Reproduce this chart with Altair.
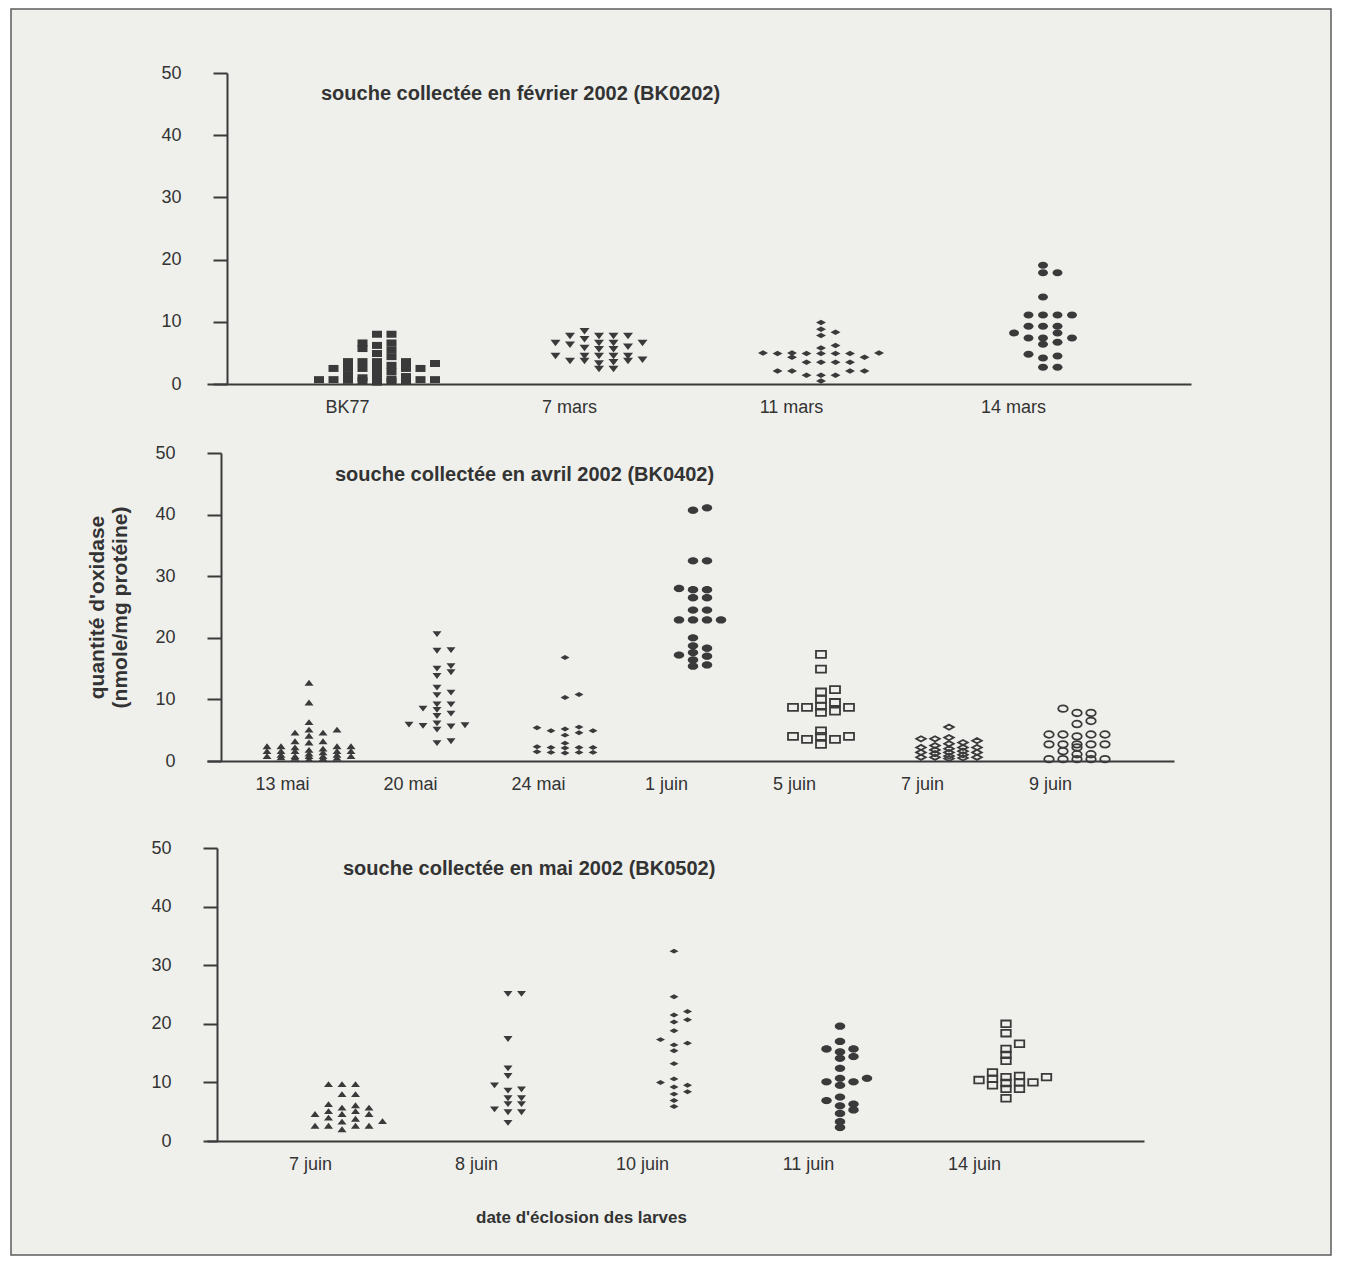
import altair as alt
import pandas as pd

# ---------------- data ----------------
p1_cats = ["BK77", "7 mars", "11 mars", "14 mars"]
p1_bk77 = [8.0, 8.0, 6.6, 6.6, 6.2, 5.7, 5.5, 4.9, 4.4, 3.6, 3.6, 3.6, 3.6, 3.3, 3.0,
           2.5, 2.5, 2.5, 2.5, 2.5, 2.5, 2.0, 1.6, 1.4, 1.2, 1.0, 0.8, 0.7, 0.7, 0.7,
           0.7, 0.7, 0.6, 0.5, 0.5, 0.4, 0.3]
p1_7mars = [8.5, 7.7, 7.7, 7.7, 7.7, 7.2, 6.6, 6.6, 6.6, 6.6, 6.3, 6.0, 5.8, 5.6, 5.6,
            4.5, 4.5, 4.5, 4.5, 4.5, 3.9, 3.7, 3.7, 3.7, 3.5, 3.3, 2.4, 2.4]
p1_11mars = [9.9, 8.8, 8.3, 7.8, 6.2, 5.8, 5.0, 5.0, 4.9, 4.9, 4.9, 4.9, 4.9, 5.0, 4.3,
             4.3, 3.5, 3.5, 3.5, 3.5, 2.1, 2.1, 2.1, 2.1, 1.4, 1.4, 1.4, 0.5]
p1_14mars = [19.1, 17.9, 17.9, 14.0, 11.1, 11.1, 11.1, 11.1, 9.3, 9.3, 9.3, 8.2, 8.2,
             7.4, 7.4, 7.4, 6.7, 6.4, 4.8, 4.5, 4.2, 2.7, 2.7]

p2_cats = ["13 mai", "20 mai", "24 mai", "1 juin", "5 juin", "7 juin", "9 juin"]
p2_13mai = [12.7, 9.5, 6.3, 5.1, 5.1, 4.6, 4.6, 4.1, 3.2, 3.2, 3.0, 2.4, 2.4, 2.4, 2.4,
            2.2, 2.0, 1.8, 1.6, 1.6, 1.6, 1.6, 1.6, 1.4, 1.2, 1.0, 1.0, 0.8, 0.8, 0.8,
            0.8, 0.8, 0.6, 0.5, 0.5, 0.4, 0.3]
p2_20mai = [20.6, 18.0, 17.9, 15.4, 15.0, 14.4, 13.8, 11.9, 11.1, 10.7, 9.2, 9.2, 8.5,
            8.3, 7.7, 7.3, 6.1, 5.9, 5.8, 5.7, 5.6, 5.1, 3.2, 2.9]
p2_24mai = [16.8, 10.8, 10.3, 5.5, 5.4, 5.2, 4.9, 4.9, 4.6, 4.2, 2.9, 2.3, 2.2, 2.2,
            2.2, 2.1, 1.5, 1.4, 1.4, 1.4, 1.3]
p2_1juin = [41.1, 40.7, 32.5, 32.5, 28.0, 27.8, 27.8, 26.5, 26.5, 24.5, 24.5, 22.9,
            22.9, 22.9, 22.9, 20.0, 18.7, 18.3, 17.6, 17.2, 17.0, 16.4, 15.6, 15.4]
p2_5juin = [17.3, 14.9, 11.6, 11.2, 10.0, 9.5, 8.9, 8.7, 8.7, 8.7, 8.1, 7.9, 4.9, 4.0,
            4.0, 4.0, 3.5, 3.5, 2.7]
p2_7juin = [5.5, 3.8, 3.6, 3.6, 3.3, 3.0, 2.8, 2.5, 2.2, 2.2, 2.2, 2.0, 1.8, 1.6, 1.4,
            1.4, 1.4, 1.2, 1.0, 0.8, 0.6, 0.6, 0.6, 0.5, 0.4]
p2_9juin = [8.5, 7.8, 7.8, 6.5, 6.0, 4.3, 4.3, 4.3, 4.3, 4.0, 2.7, 2.7, 2.7, 2.7, 2.7,
            2.2, 1.6, 1.1, 1.1, 0.3, 0.3, 0.3, 0.3, 0.3]

p3_cats = ["7 juin", "8 juin", "10 juin", "11 juin", "14 juin"]
p3_7juin = [9.7, 9.7, 9.7, 8.0, 8.0, 6.3, 6.1, 5.7, 5.7, 5.1, 5.1, 4.6, 4.6, 4.6, 4.0,
            3.8, 3.4, 3.3, 2.6, 2.6, 2.6, 2.6, 2.0]
p3_8juin = [25.1, 25.1, 17.4, 12.4, 11.1, 9.5, 8.8, 8.6, 7.3, 7.3, 6.3, 6.3, 5.4, 4.9,
            4.9, 3.1]
p3_10juin = [32.4, 24.6, 22.1, 21.5, 20.7, 20.3, 18.8, 17.3, 16.7, 16.4, 15.4, 13.2,
             10.6, 10.0, 9.5, 9.2, 8.4, 8.0, 6.9, 5.9]
p3_11juin = [19.6, 17.0, 15.7, 15.7, 15.2, 14.4, 14.1, 12.4, 10.7, 10.7, 10.1, 10.1,
             9.5, 7.5, 6.9, 6.3, 6.0, 5.3, 4.7, 3.3, 2.3]
p3_14juin = [20.0, 18.4, 16.6, 15.7, 14.7, 13.7, 11.7, 11.1, 10.9, 10.9, 10.6, 10.4,
             10.0, 10.0, 9.9, 9.5, 8.9, 8.9, 7.3]

y_ticks = [0, 10, 20, 30, 40, 50]

titles = ["souche collectée en février 2002 (BK0202)",
          "souche collectée en avril 2002 (BK0402)",
          "souche collectée en mai 2002 (BK0502)"]
y_title = ["quantité d'oxidase", "(nmole/mg protéine)"]
x_title = "date d'éclosion des larves"

# ---------------- styling ----------------
FONT = "Liberation Sans"
INK = "#3a3a3a"
TXT = "#333333"
BG = "#eff0ec"

SHAPES = {
    "square": "M-1,-0.7L1,-0.7L1,0.7L-1,0.7Z",
    "tri_down": "M-1,-0.65L1,-0.65L0,0.65Z",
    "tri_up": "M-1,0.65L1,0.65L0,-0.65Z",
    "diamond": "M-1,0L0,-0.55L1,0L0,0.55Z",
    "circle": "M-1,0A1,0.7,0,1,1,1,0A1,0.7,0,1,1,-1,0Z",
}


def swarm(values, ppu, dy_px, maxc):
    """column index for each point: nearest free column, limited to +-maxc"""
    order = sorted(range(len(values)), key=lambda i: values[i])
    cand = [0]
    for j in range(1, maxc + 1):
        cand += [j, -j]
    placed = []
    cols = [0] * len(values)
    for i in order:
        y = values[i] * ppu
        best, best_d = None, -1.0
        for c in cand:
            d = min([abs(py - y) for pc, py in placed if pc == c] or [1e9])
            if d >= dy_px:
                best = c
                break
            if d > best_d + 0.01:
                best, best_d = c, d
        placed.append((best, y))
        cols[i] = best
    return cols


def make_panel(cats, series, styles, title, title_pos, W, H, top_pad, first_px,
               gap_px, step_px, label_shift, yaxis_shift, ytitle=None,
               xtitle=None, frame=False):
    L = 208
    c0 = first_px - L
    u0 = -c0 / gap_px
    u1 = (W - c0) / gap_px
    ppu = (H - top_pad) / 50.0
    lab = "[" + ",".join("'" + c + "'" for c in cats) + "][datum.value]"

    xaxis_kw = dict(values=list(range(len(cats))), labelExpr=lab, ticks=False,
                    tickSize=0, grid=False, domainColor=INK, domainWidth=2,
                    labelFontSize=18, labelColor=TXT, labelFont=FONT,
                    labelPadding=14, labelOffset=label_shift, zindex=1)
    if xtitle:
        xaxis_kw.update(titleFontSize=17, titleFont=FONT,
                        titleFontWeight="bold", titleColor=TXT,
                        titleX=582 - L, titleY=76, titleBaseline="middle")
    x_enc = alt.X("x:Q", scale=alt.Scale(domain=[u0, u1], nice=False, zero=False),
                  axis=alt.Axis(**xaxis_kw), title=xtitle if xtitle else None)

    yaxis_kw = dict(values=y_ticks, grid=False, domainColor=INK, domainWidth=2,
                    tickColor=INK, tickWidth=2, tickSize=14, labelFontSize=18,
                    labelColor=TXT, labelFont=FONT, labelPadding=32,
                    offset=yaxis_shift, zindex=1)
    if ytitle:
        yaxis_kw.update(titleFontSize=21, titleFont=FONT, titleFontWeight="bold",
                        titleColor=TXT, titlePadding=24)
    y_enc = alt.Y("v:Q", scale=alt.Scale(domain=[0, 50], nice=False,
                                         range=[H, top_pad]),
                  axis=alt.Axis(**yaxis_kw), title=ytitle if ytitle else None)

    layers = []
    if frame:
        layers.append(
            alt.Chart(pd.DataFrame({"a": [0]})).mark_rect(
                fill=BG, stroke="#5c5c5c", strokeWidth=1.5
            ).encode(x=alt.value(12 - L), x2=alt.value(1332 - L),
                     y=alt.value(-64), y2=alt.value(1256 - 74))
        )
    for i, (vals, (kind, open_, size, maxc)) in enumerate(zip(series, styles)):
        cols = swarm(vals, ppu, 5.5, maxc)
        df = pd.DataFrame({"x": [i + c * step_px / gap_px for c in cols], "v": vals})
        if open_:
            mk = alt.Chart(df).mark_point(shape=SHAPES[kind], size=size, filled=False,
                                          color=INK, strokeWidth=1.8, opacity=1)
        else:
            mk = alt.Chart(df).mark_point(shape=SHAPES[kind], size=size, filled=True,
                                          color=INK, opacity=1, strokeWidth=0)
        layers.append(mk.encode(x=x_enc, y=y_enc))
    layers.append(
        alt.Chart(pd.DataFrame({"t": [title]})).mark_text(
            align="left", baseline="middle", fontSize=20, fontWeight="bold",
            font=FONT, color=TXT
        ).encode(x=alt.value(title_pos[0]), y=alt.value(title_pos[1] + top_pad),
                 text="t:N")
    )
    return alt.layer(*layers).properties(width=W, height=H)


p1 = make_panel(
    p1_cats, [p1_bk77, p1_7mars, p1_11mars, p1_14mars],
    [("square", False, 100, 4), ("tri_down", False, 100, 3),
     ("diamond", False, 100, 4), ("circle", False, 100, 2)],
    titles[0], (114, 21), 984, 311, 0, 378, 222, 14.5, -30, -20, frame=True)

p2 = make_panel(
    p2_cats, [p2_13mai, p2_20mai, p2_24mai, p2_1juin, p2_5juin, p2_7juin, p2_9juin],
    [("tri_up", False, 81, 3), ("tri_down", False, 81, 2), ("diamond", False, 81, 2),
     ("circle", False, 110, 2), ("square", True, 100, 2), ("diamond", True, 90, 2),
     ("circle", True, 90, 2)],
    titles[1], (128, 22), 967, 308, 0, 310, 128, 14, -27, -14, ytitle=y_title)

p3 = make_panel(
    p3_cats, [p3_7juin, p3_8juin, p3_10juin, p3_11juin, p3_14juin],
    [("tri_up", False, 81, 3), ("tri_down", False, 81, 2), ("diamond", False, 81, 1),
     ("circle", False, 110, 2), ("square", True, 90, 3)],
    titles[2], (136, 21), 937, 311, 18, 343, 166, 13.5, -32, -10, xtitle=x_title)

chart = alt.vconcat(p1, p2, p3, spacing=69, bounds="flush").properties(
    padding={"left": 2, "top": 0, "right": 5, "bottom": 5}
).configure(
    font=FONT, view=alt.ViewConfig(stroke="transparent", strokeWidth=0)
)

chart.save("out.html", embed_options={"renderer": "svg", "actions": False})
